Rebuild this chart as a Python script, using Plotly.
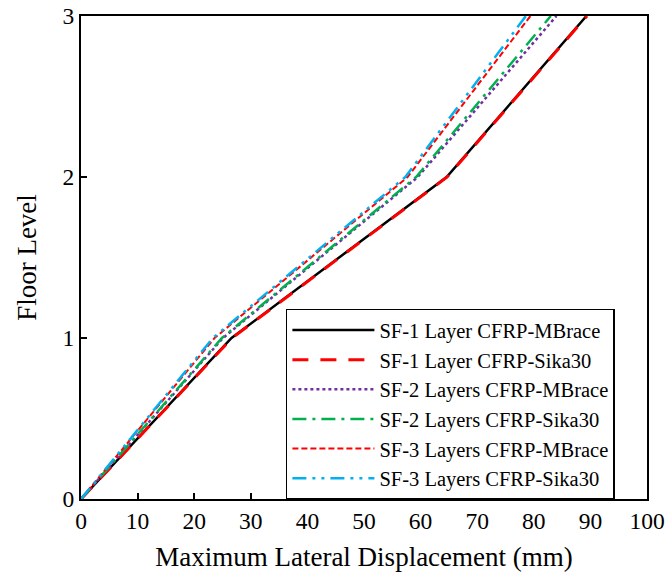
import plotly.graph_objects as go

floors = [0, 1, 2, 3]
sf1_mbrace = [0, 26.6, 64.6, 89.3]
sf1_sika30 = [0, 26.7, 64.7, 89.4]
sf2_mbrace = [0, 25.1, 59.5, 84.0]
sf2_sika30 = [0, 24.9, 59.2, 83.0]
sf3_mbrace = [0, 23.6, 57.7, 79.4]
sf3_sika30 = [0, 23.3, 57.3, 78.6]

names = ["SF-1 Layer CFRP-MBrace", "SF-1 Layer CFRP-Sika30",
         "SF-2 Layers CFRP-MBrace", "SF-2 Layers CFRP-Sika30",
         "SF-3 Layers CFRP-MBrace", "SF-3 Layers CFRP-Sika30"]
series = [sf1_mbrace, sf1_sika30, sf2_mbrace, sf2_sika30, sf3_mbrace, sf3_sika30]
colors = ["#000000", "#FF0000", "#7030A0", "#00B050", "#FF0000", "#00B0F0"]
dashes = ["solid", "16px,12px", "dot", "14px,6px,3px,6px", "6px,3px", "14px,6px,3px,6px,3px,6px"]
widths = [2.5, 3.0, 2.5, 2.5, 2.0, 2.5]

FONT = "Liberation Serif, Times New Roman, serif"

fig = go.Figure()
for n, s, c, d, w in zip(names, series, colors, dashes, widths):
    fig.add_trace(go.Scatter(x=s, y=floors, mode="lines", name=n,
                             line=dict(color=c, dash=d, width=w)))

fig.update_layout(
    width=665, height=583,
    margin=dict(l=81, r=18, t=16, b=84, autoexpand=False),
    paper_bgcolor="white", plot_bgcolor="white",
    font=dict(family=FONT, color="black", size=22),
    showlegend=True,
    legend=dict(x=0.362, y=0.394, xanchor="left", yanchor="top",
                bordercolor="black", borderwidth=1.5, bgcolor="white",
                font=dict(family=FONT, size=20.5, color="black"),
                tracegroupgap=0, itemwidth=82, entrywidth=346),
)
fig.update_xaxes(range=[0, 100], dtick=10, ticks="inside", ticklen=6, tickwidth=1.5,
                 tickcolor="black", showline=True, linecolor="black", linewidth=2,
                 mirror=True, showgrid=False, zeroline=False, automargin=False,
                 ticklabeloverflow="allow",
                 tickfont=dict(family=FONT, size=23.5),
                 title=dict(text="Maximum Lateral Displacement (mm)",
                            font=dict(family=FONT, size=27), standoff=14))
fig.update_yaxes(range=[0, 3], dtick=1, ticks="inside", ticklen=6, tickwidth=1.5,
                 tickcolor="black", showline=True, linecolor="black", linewidth=2,
                 mirror=True, showgrid=False, zeroline=False, automargin=False,
                 ticklabeloverflow="allow",
                 tickfont=dict(family=FONT, size=23.5),
                 title=dict(text="Floor Level", font=dict(family=FONT, size=27), standoff=18))

fig.write_html("out.html", config={"displayModeBar": False},
               post_script="document.body.style.margin='0';document.body.style.overflow='hidden';")
